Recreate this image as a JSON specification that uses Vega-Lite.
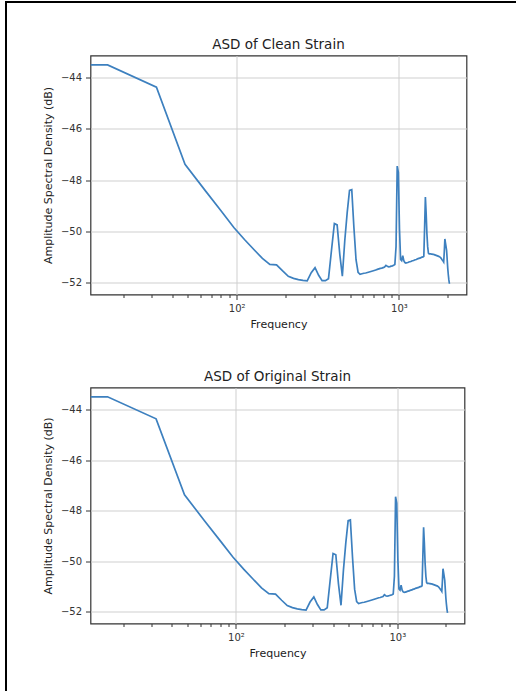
{
  "$schema": "https://vega.github.io/schema/vega-lite/v6.json",
  "padding": {"left": 5, "top": 1, "right": 0, "bottom": 0},
  "background": "white",
  "datasets": {
    "asd": [
      {"frequency": 0, "asd_db": -43.5},
      {"frequency": 16, "asd_db": -43.5},
      {"frequency": 32, "asd_db": -44.37},
      {"frequency": 48, "asd_db": -47.38},
      {"frequency": 64, "asd_db": -48.41},
      {"frequency": 80, "asd_db": -49.2},
      {"frequency": 96, "asd_db": -49.85},
      {"frequency": 112, "asd_db": -50.33},
      {"frequency": 128, "asd_db": -50.72},
      {"frequency": 144, "asd_db": -51.06},
      {"frequency": 160, "asd_db": -51.29},
      {"frequency": 176, "asd_db": -51.31},
      {"frequency": 192, "asd_db": -51.55},
      {"frequency": 208, "asd_db": -51.76},
      {"frequency": 224, "asd_db": -51.84},
      {"frequency": 240, "asd_db": -51.89},
      {"frequency": 256, "asd_db": -51.92},
      {"frequency": 272, "asd_db": -51.94},
      {"frequency": 288, "asd_db": -51.62},
      {"frequency": 304, "asd_db": -51.42},
      {"frequency": 320, "asd_db": -51.72},
      {"frequency": 336, "asd_db": -51.93},
      {"frequency": 352, "asd_db": -51.93},
      {"frequency": 368, "asd_db": -51.85},
      {"frequency": 384, "asd_db": -50.74},
      {"frequency": 400, "asd_db": -49.7},
      {"frequency": 416, "asd_db": -49.75},
      {"frequency": 432, "asd_db": -50.9},
      {"frequency": 448, "asd_db": -51.75},
      {"frequency": 464, "asd_db": -50.34},
      {"frequency": 480, "asd_db": -49.26},
      {"frequency": 496, "asd_db": -48.4},
      {"frequency": 512, "asd_db": -48.37},
      {"frequency": 528, "asd_db": -49.86},
      {"frequency": 544, "asd_db": -51.11},
      {"frequency": 560, "asd_db": -51.6},
      {"frequency": 576, "asd_db": -51.68},
      {"frequency": 592, "asd_db": -51.66},
      {"frequency": 608, "asd_db": -51.64},
      {"frequency": 624, "asd_db": -51.63},
      {"frequency": 640, "asd_db": -51.61},
      {"frequency": 656, "asd_db": -51.59},
      {"frequency": 672, "asd_db": -51.57},
      {"frequency": 688, "asd_db": -51.55},
      {"frequency": 704, "asd_db": -51.53},
      {"frequency": 720, "asd_db": -51.51},
      {"frequency": 736, "asd_db": -51.49},
      {"frequency": 752, "asd_db": -51.47},
      {"frequency": 768, "asd_db": -51.45},
      {"frequency": 784, "asd_db": -51.44},
      {"frequency": 800, "asd_db": -51.42},
      {"frequency": 816, "asd_db": -51.4},
      {"frequency": 832, "asd_db": -51.33},
      {"frequency": 848, "asd_db": -51.37},
      {"frequency": 864, "asd_db": -51.39},
      {"frequency": 880, "asd_db": -51.38},
      {"frequency": 896, "asd_db": -51.36},
      {"frequency": 912, "asd_db": -51.35},
      {"frequency": 928, "asd_db": -51.33},
      {"frequency": 944, "asd_db": -51.3},
      {"frequency": 960, "asd_db": -50.6},
      {"frequency": 976, "asd_db": -47.45},
      {"frequency": 992, "asd_db": -47.7},
      {"frequency": 1008, "asd_db": -49.9},
      {"frequency": 1024, "asd_db": -51.1},
      {"frequency": 1040, "asd_db": -51.15},
      {"frequency": 1056, "asd_db": -50.95},
      {"frequency": 1072, "asd_db": -51.15},
      {"frequency": 1088, "asd_db": -51.22},
      {"frequency": 1104, "asd_db": -51.24},
      {"frequency": 1120, "asd_db": -51.23},
      {"frequency": 1136, "asd_db": -51.22},
      {"frequency": 1152, "asd_db": -51.2},
      {"frequency": 1168, "asd_db": -51.19},
      {"frequency": 1184, "asd_db": -51.18},
      {"frequency": 1200, "asd_db": -51.16},
      {"frequency": 1216, "asd_db": -51.15},
      {"frequency": 1232, "asd_db": -51.14},
      {"frequency": 1248, "asd_db": -51.12},
      {"frequency": 1264, "asd_db": -51.11},
      {"frequency": 1280, "asd_db": -51.1},
      {"frequency": 1296, "asd_db": -51.08},
      {"frequency": 1312, "asd_db": -51.07},
      {"frequency": 1328, "asd_db": -51.06},
      {"frequency": 1344, "asd_db": -51.05},
      {"frequency": 1360, "asd_db": -51.04},
      {"frequency": 1376, "asd_db": -51.02},
      {"frequency": 1392, "asd_db": -51.01},
      {"frequency": 1408, "asd_db": -51.0},
      {"frequency": 1424, "asd_db": -50.98},
      {"frequency": 1440, "asd_db": -49.85},
      {"frequency": 1456, "asd_db": -48.66},
      {"frequency": 1472, "asd_db": -49.3},
      {"frequency": 1488, "asd_db": -50.1},
      {"frequency": 1504, "asd_db": -50.6},
      {"frequency": 1520, "asd_db": -50.85},
      {"frequency": 1536, "asd_db": -50.88},
      {"frequency": 1552, "asd_db": -50.88},
      {"frequency": 1568, "asd_db": -50.88},
      {"frequency": 1584, "asd_db": -50.89},
      {"frequency": 1600, "asd_db": -50.89},
      {"frequency": 1616, "asd_db": -50.9},
      {"frequency": 1632, "asd_db": -50.9},
      {"frequency": 1648, "asd_db": -50.91},
      {"frequency": 1664, "asd_db": -50.92},
      {"frequency": 1680, "asd_db": -50.93},
      {"frequency": 1696, "asd_db": -50.94},
      {"frequency": 1712, "asd_db": -50.95},
      {"frequency": 1728, "asd_db": -50.96},
      {"frequency": 1744, "asd_db": -50.97},
      {"frequency": 1760, "asd_db": -50.98},
      {"frequency": 1776, "asd_db": -50.99},
      {"frequency": 1792, "asd_db": -51.01},
      {"frequency": 1808, "asd_db": -51.03},
      {"frequency": 1824, "asd_db": -51.06},
      {"frequency": 1840, "asd_db": -51.1},
      {"frequency": 1856, "asd_db": -51.13},
      {"frequency": 1872, "asd_db": -51.16},
      {"frequency": 1888, "asd_db": -51.2},
      {"frequency": 1904, "asd_db": -50.8},
      {"frequency": 1920, "asd_db": -50.3},
      {"frequency": 1936, "asd_db": -50.45},
      {"frequency": 1952, "asd_db": -50.6},
      {"frequency": 1968, "asd_db": -50.75},
      {"frequency": 1984, "asd_db": -51.1},
      {"frequency": 2000, "asd_db": -51.45},
      {"frequency": 2016, "asd_db": -51.7},
      {"frequency": 2032, "asd_db": -51.9},
      {"frequency": 2048, "asd_db": -52.05}
    ]
  },
  "spacing": 0,
  "hconcat": [
    {
      "width": 2, "height": 690,
      "data": {"values": []},
      "mark": "rect",
      "encoding": {},
      "view": {"fill": "black", "stroke": null}
    },
    {
      "spacing": 33.5,
      "vconcat": [
        {
          "width": 509, "height": 2,
          "data": {"values": []},
          "mark": "rect",
          "encoding": {},
          "view": {"fill": "black", "stroke": null}
        },
        {
          "spacing": 33.5,
          "hconcat": [
            {
              "width": 1, "height": 1,
              "data": {"values": []},
              "mark": "rect",
              "encoding": {},
              "view": {"stroke": null}
            },
            {
              "spacing": 38,
              "vconcat": [
                {
                  "title": "ASD of Clean Strain",
                  "width": 376, "height": 239,
                  "data": {"name": "asd"},
                  "mark": {"type": "line", "color": "#3d80bf", "strokeWidth": 1.7, "clip": true, "invalid": "show"},
                  "encoding": {
                    "x": {"field": "frequency", "type": "quantitative",
                      "scale": {"type": "log", "domain": [12.55, 2610], "nice": false, "clamp": true},
                      "axis": {"title": "Frequency",
                        "values": [20, 30, 40, 50, 60, 70, 80, 90, 100, 200, 300, 400, 500, 600, 700, 800, 900, 1000, 2000],
                        "labelExpr": "datum.value == 100 ? '10²' : (datum.value == 1000 ? '10³' : '')",
                        "tickSize": {"condition": {"test": "datum.value == 100 || datum.value == 1000", "value": 5}, "value": 3},
                        "gridOpacity": {"condition": {"test": "datum.value == 100 || datum.value == 1000", "value": 1}, "value": 0},
                        "labelPadding": 4, "titlePadding": 5, "labelOverlap": false, "labelFlush": false}},
                    "y": {"field": "asd_db", "type": "quantitative",
                      "scale": {"domain": [-52.47, -43.13], "nice": false, "zero": false},
                      "axis": {"title": "Amplitude Spectral Density (dB)", "values": [-52, -50, -48, -46, -44], "format": "d", "tickSize": 5, "labelPadding": 4, "titlePadding": 7}}
                  }
                },
                {
                  "title": "ASD of Original Strain",
                  "width": 374, "height": 236,
                  "data": {"name": "asd"},
                  "mark": {"type": "line", "color": "#3d80bf", "strokeWidth": 1.7, "clip": true, "invalid": "show"},
                  "encoding": {
                    "x": {"field": "frequency", "type": "quantitative",
                      "scale": {"type": "log", "domain": [12.55, 2610], "nice": false, "clamp": true},
                      "axis": {"title": "Frequency",
                        "values": [20, 30, 40, 50, 60, 70, 80, 90, 100, 200, 300, 400, 500, 600, 700, 800, 900, 1000, 2000],
                        "labelExpr": "datum.value == 100 ? '10²' : (datum.value == 1000 ? '10³' : '')",
                        "tickSize": {"condition": {"test": "datum.value == 100 || datum.value == 1000", "value": 5}, "value": 3},
                        "gridOpacity": {"condition": {"test": "datum.value == 100 || datum.value == 1000", "value": 1}, "value": 0},
                        "labelPadding": 4, "titlePadding": 5, "labelOverlap": false, "labelFlush": false}},
                    "y": {"field": "asd_db", "type": "quantitative",
                      "scale": {"domain": [-52.47, -43.13], "nice": false, "zero": false},
                      "axis": {"title": "Amplitude Spectral Density (dB)", "values": [-52, -50, -48, -46, -44], "format": "d", "tickSize": 5, "labelPadding": 4, "titlePadding": 7}}
                  }
                }
              ]
            }
          ]
        }
      ]
    }
  ],
  "config": {
    "font": "DejaVu Sans",
    "view": {"stroke": "#333333", "strokeWidth": 1.2},
    "axis": {"domain": false, "grid": true, "gridColor": "#cfcfcf", "gridWidth": 1, "tickColor": "#333333", "tickWidth": 1,
      "labelColor": "#333333", "labelFontSize": 10, "titleColor": "#222222", "titleFontSize": 11, "titleFontWeight": "normal"},
    "title": {"fontSize": 13.5, "fontWeight": "normal", "color": "#222222", "offset": 4}
  }
}
